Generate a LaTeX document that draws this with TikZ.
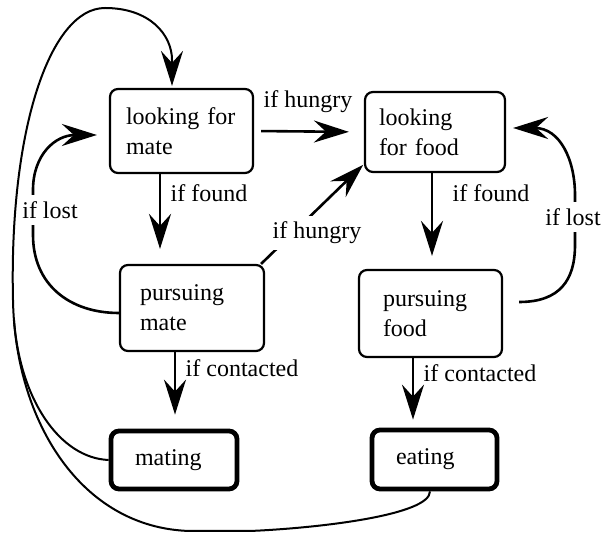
\documentclass[tikz,border=0pt]{standalone}
\usepackage{fontspec}
\setmainfont{Liberation Serif}
\usetikzlibrary{arrows.meta,calc}
\begin{document}
\begin{tikzpicture}[x=1pt,y=-1pt,
  every node/.style={font=\rmfamily\fontsize{24}{30}\selectfont},
  box/.style={draw, rounded corners=8pt, line width=2.2pt, inner sep=0pt, align=left},
  goal/.style={box, line width=4.8pt},
  arr/.style={line width=2.6pt, -{Stealth[length=35pt,width=22pt,inset=12pt]}},
  thinpath/.style={line width=2pt},
  lbl/.style={inner sep=3pt},
  gapfill/.style={fill=white, inner sep=6pt}]
\useasboundingbox (0,0) rectangle (606,534);

% states
\node[box, minimum width=143pt, minimum height=84pt, text width=111pt] (lfm) at (181.5,131) {looking for\\mate};
\node[box, minimum width=140pt, minimum height=80pt, text width=112pt] (lff) at (435,132) {looking\\for food};
\node[box, minimum width=144pt, minimum height=86pt, text width=104pt] (pm) at (192,308) {pursuing\\mate};
\node[box, minimum width=143pt, minimum height=87pt, text width=95pt] (pf) at (430.5,313.5) {pursuing\\food};
\node[goal, minimum width=126pt, minimum height=58pt, text width=78pt] (mating) at (174,460) {mating};
\node[goal, minimum width=125pt, minimum height=59pt, text width=77pt] (eating) at (434.5,459.5) {eating};

% transitions
\draw[arr, shorten <=7pt, shorten >=15pt] (lfm.east) -- (lff.west)
  node[lbl] at (308,102) {if hungry};
\draw[arr, shorten >=15pt] ([xshift=-21.5pt]lfm.south) -- ([xshift=-21.5pt]lfm.south |- pm.north)
  node[lbl] at (209,193) {if found};
\draw[arr, shorten >=13pt] ([xshift=-3pt]lff.south) -- ([xshift=-3pt]lff.south |- pf.north)
  node[lbl] at (491,193) {if found};
\draw[arr, shorten >=14pt] ([xshift=-17pt]pm.south) -- ([xshift=-17pt]pm.south |- mating.north)
  node[lbl] at (242,368) {if contacted};
\draw[arr, shorten >=8pt] ([xshift=-17.5pt]pf.south) -- ([xshift=-17.5pt]pf.south |- eating.north)
  node[lbl] at (480,373) {if contacted};
\draw[arr, shorten >=1pt] ([xshift=-4pt]pm.north east) -- ([yshift=9pt]lff.south west)
  node[lbl, gapfill] at (317,233) {if hungry};

% lost-target loops
\draw[arr] ([yshift=-5pt]pm.west) .. controls (70,313) and (33,285) .. (33,235) -- (33,190)
  .. controls (33,155) and (55,135) .. ([xshift=-12pt,yshift=-4pt]lfm.west)
  node[lbl, gapfill] at (50,210) {if lost};
\draw[arr] ([xshift=16pt,yshift=11.5pt]pf.east) .. controls (560,302) and (575,280) .. (575,245) -- (575,195)
  .. controls (575,160) and (560,128) .. ([xshift=7pt,yshift=4pt]lff.east)
  node[lbl, gapfill] at (573,217) {if lost};

% return to the start after eating or mating
\draw[arr, line width=2pt] ([xshift=-4.5pt]eating.south) .. controls (430,515) and (320,528) .. (250,531)
  -- (190,531) .. controls (80,528) and (15,420) .. (13,300)
  .. controls (9,130) and (50,8) .. (105,8)
  .. controls (150,8) and (172,35) .. (172,60)
  -- ([xshift=-9.5pt,yshift=2pt]lfm.north);
\draw[thinpath] (mating.west) .. controls (60,458) and (20,400) .. (14,320);
\end{tikzpicture}
\end{document}
